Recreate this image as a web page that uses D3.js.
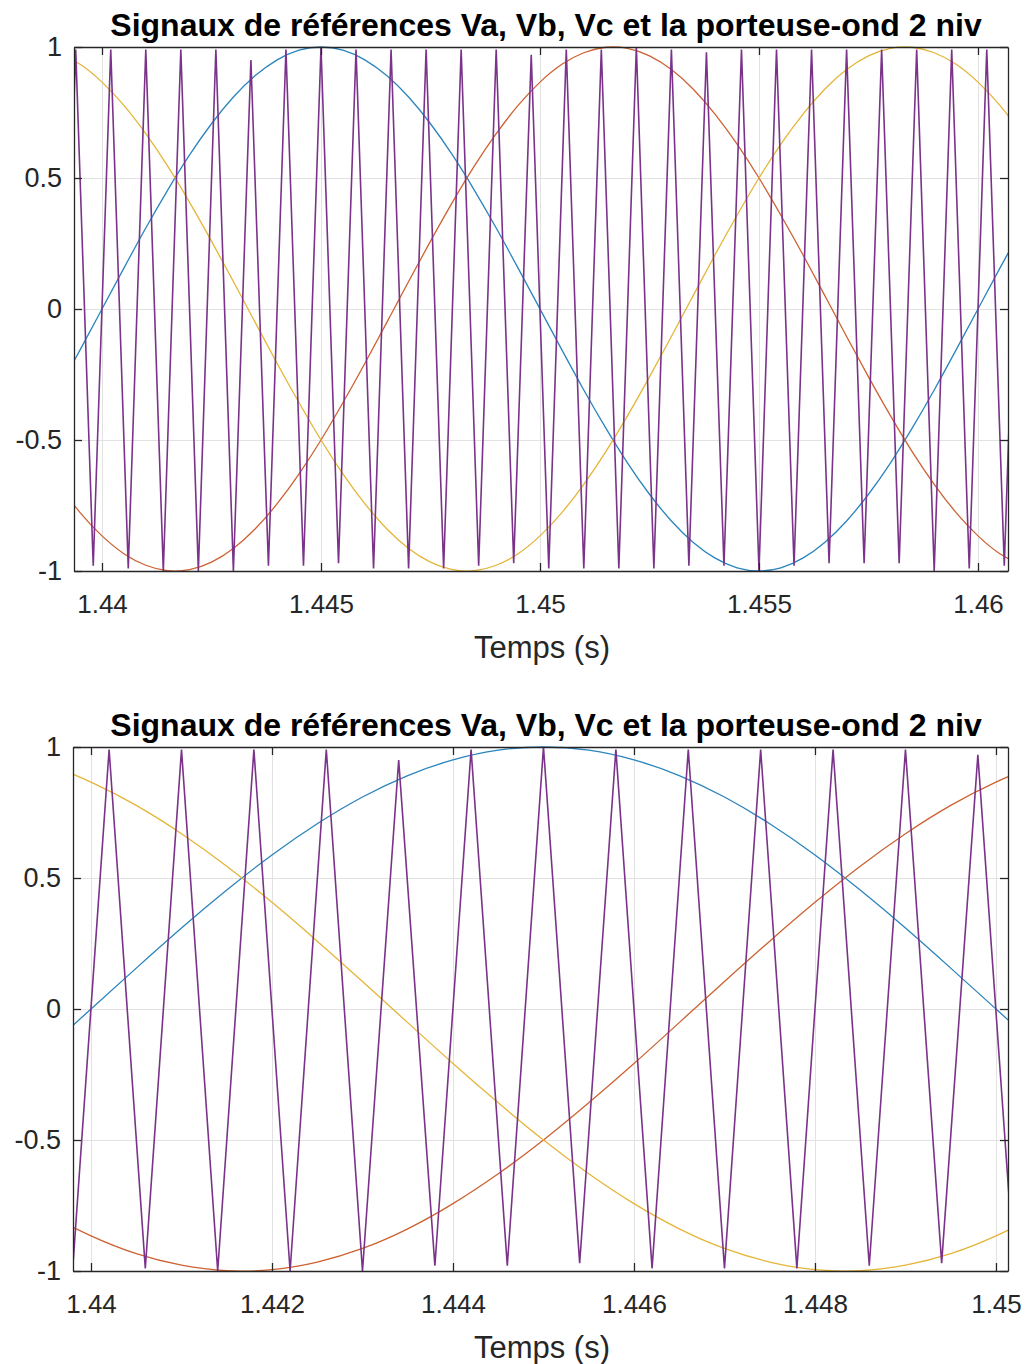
<!DOCTYPE html>
<html><head><meta charset="utf-8">
<script src="https://cdn.jsdelivr.net/npm/d3@7"></script>
<style>
body{margin:0;background:#fff}
svg{display:block}
text{font-family:"Liberation Sans",Arial,Helvetica,sans-serif}
</style>
</head><body>
<svg id="c" width="1028" height="1364"></svg>
<script>
// ---------- data ----------
const time = [1.4390,1.4395,1.4400,1.4405,1.4410,1.4415,1.4420,1.4425,1.4430,1.4435,
  1.4440,1.4445,1.4450,1.4455,1.4460,1.4465,1.4470,1.4475,1.4480,1.4485,
  1.4490,1.4495,1.4500,1.4505,1.4510,1.4515,1.4520,1.4525,1.4530,1.4535,
  1.4540,1.4545,1.4550,1.4555,1.4560,1.4565,1.4570,1.4575,1.4580,1.4585,
  1.4590,1.4595,1.4600,1.4605,1.4610];
const va = [-0.309,-0.156,0,0.156,0.309,0.454,0.588,0.707,0.809,0.891,
  0.951,0.988,1,0.988,0.951,0.891,0.809,0.707,0.588,0.454,
  0.309,0.156,0,-0.156,-0.309,-0.454,-0.588,-0.707,-0.809,-0.891,
  -0.951,-0.988,-1,-0.988,-0.951,-0.891,-0.809,-0.707,-0.588,-0.454,
  -0.309,-0.156,0,0.156,0.309];
const vb = [-0.669,-0.777,-0.866,-0.934,-0.978,-0.999,-0.995,-0.966,-0.914,-0.839,
  -0.743,-0.629,-0.5,-0.358,-0.208,-0.052,0.105,0.259,0.407,0.545,
  0.669,0.777,0.866,0.934,0.978,0.999,0.995,0.966,0.914,0.839,
  0.743,0.629,0.5,0.358,0.208,0.052,-0.105,-0.259,-0.407,-0.545,
  -0.669,-0.777,-0.866,-0.934,-0.978];
const vc = [0.978,0.934,0.866,0.777,0.669,0.545,0.407,0.259,0.105,-0.052,
  -0.208,-0.358,-0.5,-0.629,-0.743,-0.839,-0.914,-0.966,-0.995,-0.999,
  -0.978,-0.934,-0.866,-0.777,-0.669,-0.545,-0.407,-0.259,-0.105,0.052,
  0.208,0.358,0.5,0.629,0.743,0.839,0.914,0.966,0.995,0.999,
  0.978,0.934,0.866,0.777,0.669];
const carrierT = [1.4390,1.4394,1.4398,1.4402,1.4406,1.4410,1.4414,1.4418,1.4422,1.4426,
  1.4430,1.4434,1.4438,1.4442,1.4446,1.4450,1.4454,1.4458,1.4462,1.4466,
  1.4470,1.4474,1.4478,1.4482,1.4486,1.4490,1.4494,1.4498,1.4502,1.4506,
  1.4510,1.4514,1.4518,1.4522,1.4526,1.4530,1.4534,1.4538,1.4542,1.4546,
  1.4550,1.4554,1.4558,1.4562,1.4566,1.4570,1.4574,1.4578,1.4582,1.4586,
  1.4590,1.4594,1.4598,1.4602,1.4606,1.4610];
const carrierV = [-1,0.99,-0.98,0.99,-0.99,0.99,-1,0.99,-1,0.99,
  -1,0.95,-0.98,0.99,-0.98,1,-0.97,0.99,-0.99,0.99,
  -0.99,0.99,-0.99,0.99,-0.98,0.99,-0.97,0.97,-0.99,0.99,
  -0.99,0.99,-0.99,1,-0.99,0.99,-0.98,0.98,-0.98,0.99,
  -1,0.99,-0.98,0.99,-0.97,0.99,-0.97,0.99,-0.97,0.99,
  -1,0.99,-0.99,0.99,-0.98,1];
const yTicks = [-1,-0.5,0,0.5,1];
const yTickLabels = ["-1","-0.5","0","0.5","1"];
const xTicksTop = [1.44,1.445,1.45,1.455,1.46];
const xTickLabelsTop = ["1.44","1.445","1.45","1.455","1.46"];
const xTicksBottom = [1.44,1.442,1.444,1.446,1.448,1.45];
const xTickLabelsBottom = ["1.44","1.442","1.444","1.446","1.448","1.45"];
const titleText = "Signaux de références Va, Vb, Vc et la porteuse-ond 2 niv";
const xLabelText = "Temps (s)";
const seriesNames = ["Va","Vb","Vc"];

// ---------- layout / style ----------
const colors = {Va:"#2a84bd", Vb:"#cc6232", Vc:"#e4b538", carrier:"#7a3389"};
const axisColor = "#262626";
const gridColor = "#e2e2e2";

const panels = [
  {left:74, right:1008, top:47, bottom:571, domain:[1.439361,1.460685],
   ticks:xTicksTop, labels:xTickLabelsTop},
  {left:73, right:1008, top:747, bottom:1271, domain:[1.439801,1.450133],
   ticks:xTicksBottom, labels:xTickLabelsBottom}
];

const svg = d3.select("#c");
const sines = {Va:va, Vb:vb, Vc:vc};

panels.forEach((p, pi) => {
  const x = d3.scaleLinear().domain(p.domain).range([p.left, p.right]);
  const y = d3.scaleLinear().domain([-1, 1]).range([p.bottom, p.top]);
  const w = p.right - p.left, h = p.bottom - p.top;
  const g = svg.append("g");

  const clipId = "clip" + pi;
  svg.append("clipPath").attr("id", clipId)
    .append("rect").attr("x", p.left).attr("y", p.top - 1).attr("width", w).attr("height", h + 2);

  // grid
  g.append("g").attr("transform", `translate(0,${p.bottom})`)
    .call(d3.axisBottom(x).tickValues(p.ticks).tickSizeInner(-h).tickSizeOuter(0).tickFormat(""))
    .call(s => { s.select(".domain").remove(); s.selectAll("line").attr("stroke", gridColor).attr("stroke-width", 1); });
  g.append("g").attr("transform", `translate(${p.left},0)`)
    .call(d3.axisLeft(y).tickValues(yTicks).tickSizeInner(-w).tickSizeOuter(0).tickFormat(""))
    .call(s => { s.select(".domain").remove(); s.selectAll("line").attr("stroke", gridColor).attr("stroke-width", 1); });

  // data lines
  const plot = g.append("g").attr("clip-path", `url(#${clipId})`);
  seriesNames.forEach(name => {
    const vals = sines[name];
    const line = d3.line().x((d, i) => x(time[i])).y(d => y(d)).curve(d3.curveNatural);
    plot.append("path").datum(vals).attr("d", line)
      .attr("fill", "none").attr("stroke", colors[name]).attr("stroke-width", 1.3);
  });
  const cline = d3.line().x((d, i) => x(carrierT[i])).y(d => y(d));
  plot.append("path").datum(carrierV).attr("d", cline)
    .attr("fill", "none").attr("stroke", colors.carrier).attr("stroke-width", 1.6)
    .attr("stroke-linejoin", "miter");

  // axes (box with inward ticks)
  const styleAxis = s => {
    s.select(".domain").attr("stroke", axisColor).attr("stroke-width", 1.3);
    s.selectAll(".tick line").attr("stroke", axisColor).attr("stroke-width", 1.3);
    s.selectAll("text").attr("fill", axisColor).attr("font-size", 26)
      .attr("font-family", '"Liberation Sans",Arial,sans-serif');
  };
  g.append("g").attr("transform", `translate(0,${p.bottom})`)
    .call(d3.axisBottom(x).tickValues(p.ticks).tickFormat((d, i) => p.labels[i])
      .tickSizeInner(-8).tickSizeOuter(0).tickPadding(24))
    .call(styleAxis);
  g.append("g").attr("transform", `translate(0,${p.top})`)
    .call(d3.axisTop(x).tickValues(p.ticks).tickFormat("").tickSizeInner(-8).tickSizeOuter(0))
    .call(styleAxis);
  g.append("g").attr("transform", `translate(${p.left},0)`)
    .call(d3.axisLeft(y).tickValues(yTicks).tickFormat((d, i) => yTickLabels[i])
      .tickSizeInner(-8).tickSizeOuter(0).tickPadding(12))
    .call(styleAxis)
    .call(s => s.selectAll("text").attr("font-size", 27));
  g.append("g").attr("transform", `translate(${p.right},0)`)
    .call(d3.axisRight(y).tickValues(yTicks).tickFormat("").tickSizeInner(-8).tickSizeOuter(0))
    .call(styleAxis);

  // title
  g.append("text").attr("x", 546).attr("y", p.top - 11)
    .attr("text-anchor", "middle").attr("font-weight", "bold").attr("font-size", 32)
    .attr("fill", "#000").text(titleText);
  // x label
  g.append("text").attr("x", 542).attr("y", p.bottom + 87)
    .attr("text-anchor", "middle").attr("font-size", 31)
    .attr("fill", axisColor).text(xLabelText);
});
</script>
</body></html>
